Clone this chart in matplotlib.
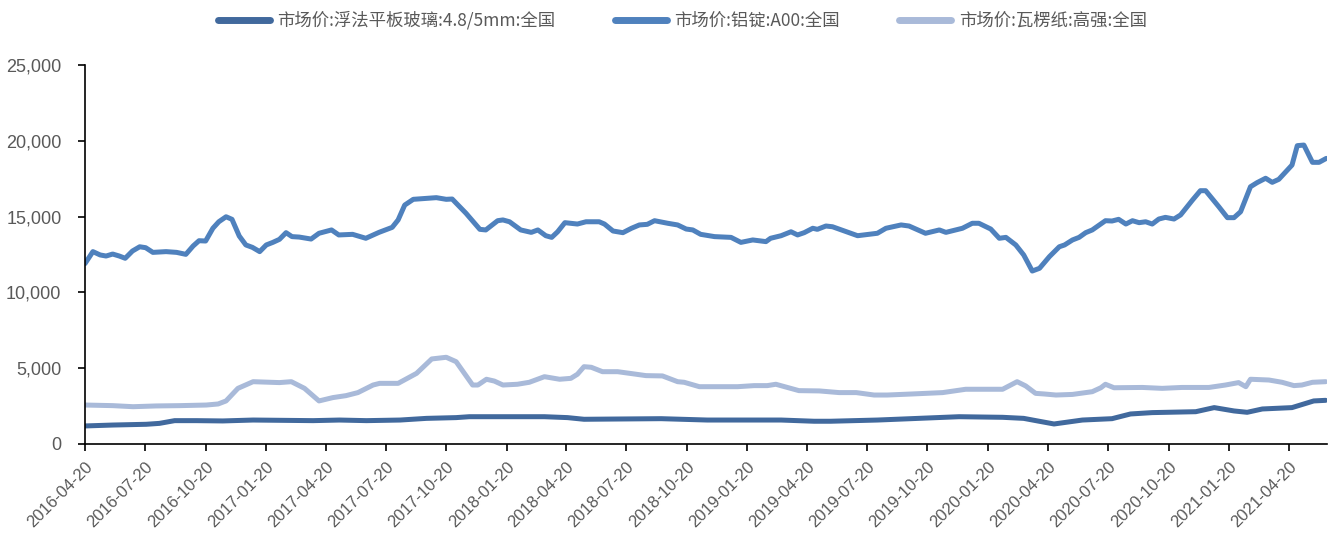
import matplotlib
matplotlib.use("Agg")
import matplotlib.pyplot as plt
from matplotlib.ticker import FuncFormatter
import pandas as pd

# 市场价:浮法平板玻璃:4.8/5mm:全国
glass_dates = [
    "2016-04-20", "2016-06-01", "2016-07-22", "2016-08-11", "2016-09-03", "2016-10-06",
    "2016-11-15", "2016-12-31", "2017-04-01", "2017-05-11", "2017-06-21", "2017-08-11",
    "2017-09-20", "2017-11-04", "2017-11-24", "2018-03-18", "2018-04-22", "2018-05-17",
    "2018-09-11", "2018-11-20", "2019-03-12", "2019-05-01", "2019-05-26", "2019-08-05",
    "2019-09-25", "2019-12-07", "2020-02-11", "2020-03-14", "2020-04-04", "2020-04-29",
    "2020-06-11", "2020-07-26", "2020-08-23", "2020-09-25", "2020-11-30", "2020-12-28",
    "2021-01-27", "2021-02-16", "2021-03-11", "2021-04-25", "2021-05-28", "2021-06-15",
]
glass_values = [
    1190, 1250, 1300, 1360, 1540, 1540,
    1520, 1580, 1540, 1580, 1540, 1580,
    1690, 1740, 1800, 1800, 1740, 1630,
    1670, 1580, 1580, 1500, 1500, 1580,
    1670, 1800, 1760, 1690, 1520, 1320,
    1580, 1670, 1980, 2070, 2130, 2400,
    2180, 2090, 2310, 2400, 2840, 2880,
]

# 市场价:铝锭:A00:全国
alu_dates = [
    "2016-04-20", "2016-05-02", "2016-05-13", "2016-05-22", "2016-06-01", "2016-06-11",
    "2016-06-20", "2016-07-01", "2016-07-12", "2016-07-21", "2016-08-01", "2016-08-21",
    "2016-09-06", "2016-09-20", "2016-10-01", "2016-10-10", "2016-10-20", "2016-10-31",
    "2016-11-09", "2016-11-20", "2016-11-29", "2016-12-10", "2016-12-20", "2016-12-30",
    "2017-01-10", "2017-01-20", "2017-01-30", "2017-02-09", "2017-02-19", "2017-02-28",
    "2017-03-11", "2017-03-29", "2017-04-10", "2017-04-29", "2017-05-10", "2017-05-31",
    "2017-06-20", "2017-07-10", "2017-07-30", "2017-08-08", "2017-08-18", "2017-08-31",
    "2017-10-05", "2017-10-20", "2017-10-29", "2017-11-19", "2017-12-10", "2017-12-19",
    "2018-01-06", "2018-01-14", "2018-01-24", "2018-02-10", "2018-02-26", "2018-03-08",
    "2018-03-20", "2018-03-29", "2018-04-07", "2018-04-18", "2018-05-07", "2018-05-20",
    "2018-06-09", "2018-06-17", "2018-06-30", "2018-07-15", "2018-07-28", "2018-08-09",
    "2018-08-21", "2018-09-01", "2018-09-21", "2018-10-06", "2018-10-19", "2018-10-29",
    "2018-11-10", "2018-12-01", "2018-12-26", "2019-01-10", "2019-01-28", "2019-02-17",
    "2019-02-24", "2019-03-12", "2019-03-27", "2019-04-06", "2019-04-16", "2019-04-29",
    "2019-05-06", "2019-05-19", "2019-05-29", "2019-06-16", "2019-07-06", "2019-08-05",
    "2019-08-18", "2019-09-10", "2019-09-22", "2019-10-17", "2019-11-07", "2019-11-17",
    "2019-12-12", "2019-12-27", "2020-01-06", "2020-01-24", "2020-02-06", "2020-02-16",
    "2020-03-02", "2020-03-14", "2020-03-27", "2020-04-07", "2020-04-22", "2020-05-07",
    "2020-05-15", "2020-05-27", "2020-06-06", "2020-06-16", "2020-06-26", "2020-07-16",
    "2020-07-26", "2020-08-05", "2020-08-16", "2020-08-26", "2020-09-05", "2020-09-15",
    "2020-09-25", "2020-10-05", "2020-10-15", "2020-10-28", "2020-11-07", "2020-11-25",
    "2020-12-07", "2020-12-15", "2021-01-04", "2021-01-17", "2021-01-27", "2021-02-06",
    "2021-02-21", "2021-03-03", "2021-03-16", "2021-03-26", "2021-04-05", "2021-04-25",
    "2021-05-03", "2021-05-13", "2021-05-26", "2021-06-05", "2021-06-16",
]
alu_values = [
    11900, 12690, 12470, 12400, 12530, 12400,
    12250, 12730, 13010, 12950, 12640, 12690,
    12640, 12510, 13060, 13410, 13390, 14230,
    14660, 14990, 14820, 13720, 13130, 12970,
    12690, 13130, 13300, 13500, 13940, 13680,
    13650, 13520, 13900, 14120, 13790, 13830,
    13570, 13960, 14290, 14780, 15760, 16140,
    16250, 16140, 16160, 15220, 14160, 14120,
    14730, 14780, 14660, 14120, 13960, 14120,
    13740, 13630, 14000, 14600, 14510, 14660,
    14660, 14510, 14050, 13940, 14230, 14450,
    14490, 14730, 14560, 14450, 14180, 14120,
    13830, 13680, 13630, 13300, 13460, 13350,
    13570, 13740, 14000, 13790, 13940, 14230,
    14160, 14380, 14330, 14050, 13740, 13900,
    14230, 14450, 14380, 13900, 14120, 13960,
    14230, 14560, 14560, 14180, 13570, 13630,
    13130, 12470, 11410, 11590, 12360, 13010,
    13130, 13460, 13630, 13940, 14120, 14730,
    14710, 14820, 14510, 14730, 14600, 14660,
    14510, 14840, 14950, 14840, 15110, 16090,
    16710, 16710, 15650, 14930, 14930, 15320,
    16970, 17240, 17530, 17260, 17460, 18400,
    19680, 19720, 18580, 18580, 18840,
]

# 市场价:瓦楞纸:高强:全国
paper_dates = [
    "2016-04-20", "2016-06-01", "2016-07-02", "2016-08-06", "2016-09-11", "2016-10-21",
    "2016-11-08", "2016-11-20", "2016-12-08", "2016-12-31", "2017-02-09", "2017-02-27",
    "2017-03-19", "2017-04-10", "2017-05-01", "2017-05-21", "2017-06-08", "2017-07-01",
    "2017-07-11", "2017-08-08", "2017-09-05", "2017-09-28", "2017-10-20", "2017-11-04",
    "2017-11-29", "2017-12-07", "2017-12-20", "2018-01-01", "2018-01-14", "2018-02-05",
    "2018-02-23", "2018-03-18", "2018-04-10", "2018-04-27", "2018-05-07", "2018-05-17",
    "2018-05-28", "2018-06-14", "2018-07-07", "2018-08-01", "2018-08-19", "2018-09-13",
    "2018-10-06", "2018-10-16", "2018-11-08", "2019-01-05", "2019-01-30", "2019-02-19",
    "2019-03-04", "2019-04-08", "2019-05-09", "2019-06-08", "2019-07-04", "2019-07-31",
    "2019-08-20", "2019-09-27", "2019-11-12", "2019-12-17", "2020-02-11", "2020-03-04",
    "2020-03-17", "2020-04-01", "2020-04-14", "2020-05-02", "2020-05-27", "2020-06-26",
    "2020-07-09", "2020-07-16", "2020-07-29", "2020-09-10", "2020-10-10", "2020-11-09",
    "2020-12-20", "2021-01-14", "2021-02-03", "2021-02-14", "2021-02-21", "2021-03-21",
    "2021-04-10", "2021-04-28", "2021-05-10", "2021-05-26", "2021-06-15",
]
paper_values = [
    2570, 2530, 2460, 2510, 2530, 2570,
    2640, 2840, 3670, 4110, 4050, 4110,
    3670, 2840, 3060, 3190, 3390, 3890,
    4000, 4000, 4660, 5610, 5720, 5430,
    3890, 3890, 4270, 4150, 3890, 3940,
    4070, 4440, 4270, 4330, 4600, 5100,
    5060, 4770, 4770, 4620, 4510, 4490,
    4110, 4070, 3780, 3780, 3850, 3850,
    3940, 3520, 3500, 3390, 3390, 3230,
    3230, 3300, 3390, 3610, 3610, 4110,
    3830, 3340, 3300, 3230, 3270, 3450,
    3710, 3940, 3710, 3730, 3670, 3730,
    3730, 3890, 4050, 3780, 4270, 4220,
    4070, 3850, 3890, 4070, 4110,
]

series_labels = [
    "市场价:浮法平板玻璃:4.8/5mm:全国",
    "市场价:铝锭:A00:全国",
    "市场价:瓦楞纸:高强:全国",
]
series_colors = ["#41699D", "#4F81BD", "#A9BAD9"]

# quarterly ticks on the 20th: Jan/Apr/Jul/Oct
tick_dates = pd.date_range("2016-04-01", "2021-04-01", freq="3MS") + pd.Timedelta(days=19)
tick_labels = [d.strftime("%Y-%m-%d") for d in tick_dates]
y_ticks = [0, 5000, 10000, 15000, 20000, 25000]

plt.rcParams["font.family"] = ["Liberation Sans", "Noto Sans CJK SC", "DejaVu Sans"]

fig = plt.figure(figsize=(13.3, 5.4), dpi=100)
ax = fig.add_axes([0.0639, 0.1778, 0.9338, 0.7018])

series = [
    (glass_dates, glass_values),
    (alu_dates, alu_values),
    (paper_dates, paper_values),
]
for (dts, vals), lab, col in zip(series, series_labels, series_colors):
    ax.plot(pd.to_datetime(dts), vals, color=col, lw=3.6, label=lab,
            solid_joinstyle="round", solid_capstyle="round")

ax.set_xlim(pd.Timestamp("2016-04-20"), pd.Timestamp("2021-06-17"))
ax.set_ylim(0, 25000)
ax.set_yticks(y_ticks)
ax.yaxis.set_major_formatter(FuncFormatter(lambda v, p: f"{int(v):,}"))
ax.set_xticks(tick_dates)
ax.set_xticklabels(tick_labels, rotation=45, ha="right", rotation_mode="anchor")

for s in ["top", "right"]:
    ax.spines[s].set_visible(False)
for s in ["left", "bottom"]:
    ax.spines[s].set_color("black")
    ax.spines[s].set_linewidth(1.2)

ax.tick_params(axis="y", direction="out", length=5, width=1.2, colors="black",
               labelcolor="#595959", labelsize=13, pad=12)
ax.tick_params(axis="x", direction="out", length=5, width=1.2, colors="black",
               labelcolor="#595959", labelsize=12, pad=6)

leg = fig.legend(loc="upper center", bbox_to_anchor=(0.513, 1.008), ncol=3,
                 frameon=False, handlelength=3.0, handletextpad=0.45,
                 columnspacing=3.4,
                 prop={"family": ["Noto Sans CJK SC", "DejaVu Sans"], "size": 12.5})
for t in leg.get_texts():
    t.set_color("#595959")
for h in leg.legend_handles:
    h.set_linewidth(5)

fig.savefig("out.png", dpi=100)
